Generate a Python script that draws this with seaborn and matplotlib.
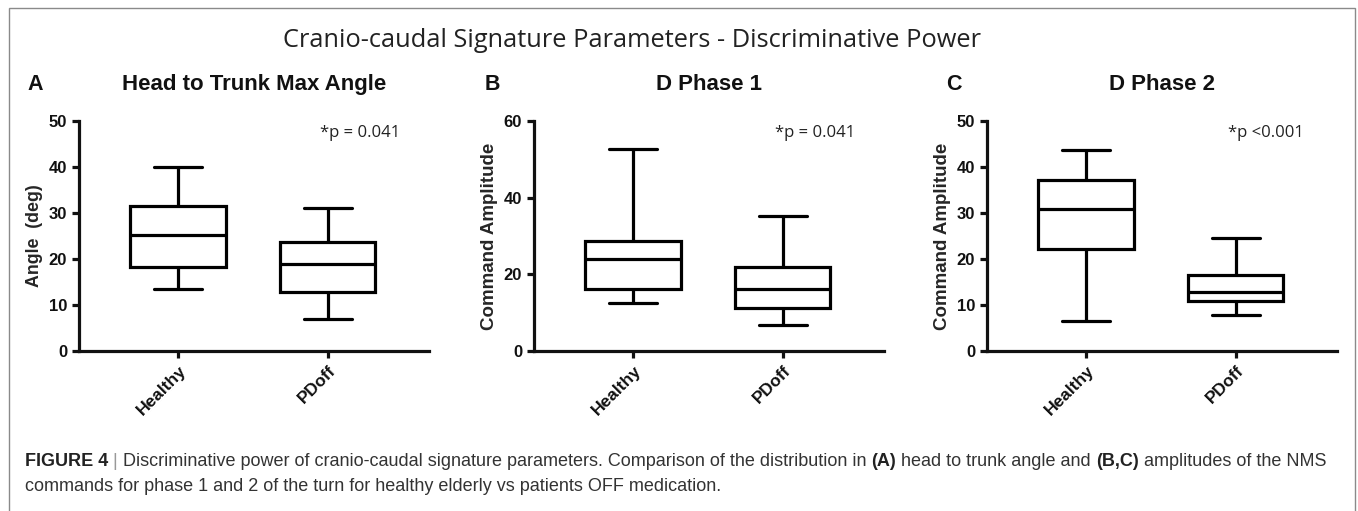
import matplotlib
matplotlib.use("Agg")

import pandas as pd
import matplotlib.pyplot as plt
import seaborn as sns
from matplotlib.patches import Rectangle

# resumo de cinco numeros (min, Q1, mediana, Q3, max)
grupos = ["Healthy", "PDoff"]

angulo_healthy = [13.4, 18.3, 25.2, 31.5, 40.0]
angulo_pdoff = [6.9, 12.9, 18.9, 23.7, 31.0]

fase1_healthy = [12.6, 16.3, 23.9, 28.8, 52.6]
fase1_pdoff = [6.9, 11.3, 16.3, 21.8, 35.2]

fase2_healthy = [6.6, 22.1, 30.9, 37.2, 43.7]
fase2_pdoff = [7.8, 10.8, 12.9, 16.6, 24.6]

titulos = ["Head to Trunk Max Angle", "D Phase 1", "D Phase 2"]
letras = ["A", "B", "C"]
rotulos_y = ["Angle  (deg)", "Command Amplitude", "Command Amplitude"]
pvalores = ["*p = 0.041", "*p = 0.041", "*p <0.001"]
limites_y = [50, 60, 50]
passos_y = [10, 20, 10]

titulo_geral = "Cranio-caudal Signature Parameters - Discriminative Power"

sns.set_style("ticks")
plt.rcParams["font.family"] = ["Liberation Sans", "DejaVu Sans"]

LW = 2.3


def montar_df(healthy, pdoff):
    return pd.DataFrame({
        "grupo": ["Healthy"] * len(healthy) + ["PDoff"] * len(pdoff),
        "valor": healthy + pdoff,
    })


def texto_misto(fig, x, y, partes, tamanho):
    renderer = fig.canvas.get_renderer()
    for txt, peso, cor in partes:
        t = fig.text(x, y, txt, fontsize=tamanho, fontweight=peso, color=cor,
                     va="baseline", ha="left")
        bb = t.get_window_extent(renderer=renderer)
        x += bb.width / fig.bbox.width


fig = plt.figure(figsize=(13.58, 5.11), dpi=100)

# moldura cinza em volta da figura
fig.patches.append(Rectangle((9 / 1358, -0.05), 1346 / 1358, 1.05 - 8 / 511,
                             transform=fig.transFigure, fill=False,
                             edgecolor="#8a8a8a", linewidth=1.0))

esquerdas = [79, 534, 987]
letras_x = [27, 485, 946]
tamanhos_rotulo = [12.8, 13.5, 13.5]
dados = [
    (angulo_healthy, angulo_pdoff),
    (fase1_healthy, fase1_pdoff),
    (fase2_healthy, fase2_pdoff),
]

for i, (h, p) in enumerate(dados):
    ax = fig.add_axes([esquerdas[i] / 1358, 1 - 351 / 511, 350 / 1358, 230 / 511])
    df = montar_df(h, p)
    sns.boxplot(
        data=df, x="grupo", y="valor", order=grupos,
        whis=(0, 100), width=0.64, color="white", linecolor="black",
        linewidth=LW, ax=ax,
    )
    ax.set_xlim(-0.664, 1.678)
    ax.set_ylim(0, limites_y[i])
    ax.set_yticks(range(0, limites_y[i] + 1, passos_y[i]))
    sns.despine(ax=ax)
    for lado in ["left", "bottom"]:
        ax.spines[lado].set_linewidth(LW)
        ax.spines[lado].set_color("#111111")
    ax.tick_params(width=LW, length=5, colors="#111111", labelsize=12)
    for lbl in ax.get_yticklabels():
        lbl.set_fontweight("bold")
    ax.set_xticks([0, 1])
    ax.set_xticklabels(grupos, rotation=45, ha="right",
                       rotation_mode="anchor", fontweight="bold", fontsize=12.5)
    ax.set_xlabel("")
    ax.set_ylabel(rotulos_y[i], fontweight="bold", fontsize=tamanhos_rotulo[i],
                  labelpad=4)
    ax.patch.set_alpha(0)

    ax.text(0.69, 0.948, pvalores[i], transform=ax.transAxes,
            fontsize=12, family=["Open Sans", "DejaVu Sans"],
            va="center", ha="left", color="#222222")

    centro = (esquerdas[i] + 175) / 1358
    fig.text(centro, 1 - 90 / 511, titulos[i], fontsize=16,
             fontweight="bold", ha="center", va="baseline", color="#111111")
    fig.text(letras_x[i] / 1358, 1 - 90 / 511, letras[i], fontsize=15.5,
             fontweight="bold", va="baseline", color="#111111")

fig.text(632 / 1358, 1 - 47 / 511, titulo_geral, fontsize=18.3,
         family=["Open Sans", "DejaVu Sans"], ha="center", va="baseline",
         color="#222222")

# legenda da figura
fig.canvas.draw()
linha1 = [
    ("FIGURE 4", "bold", "#222222"),
    (" | ", "normal", "#999999"),
    ("Discriminative power of cranio-caudal signature parameters. Comparison "
     "of the distribution in ", "normal", "#333333"),
    ("(A)", "bold", "#222222"),
    (" head to trunk angle and ", "normal", "#333333"),
    ("(B,C)", "bold", "#222222"),
    (" amplitudes of the NMS", "normal", "#333333"),
]
linha2 = [
    ("commands for phase 1 and 2 of the turn for healthy elderly vs patients "
     "OFF medication.", "normal", "#333333"),
]
texto_misto(fig, 25 / 1358, 1 - 466 / 511, linha1, 13.0)
texto_misto(fig, 25 / 1358, 1 - 491 / 511, linha2, 13.0)

fig.savefig("out.png", dpi=100)
